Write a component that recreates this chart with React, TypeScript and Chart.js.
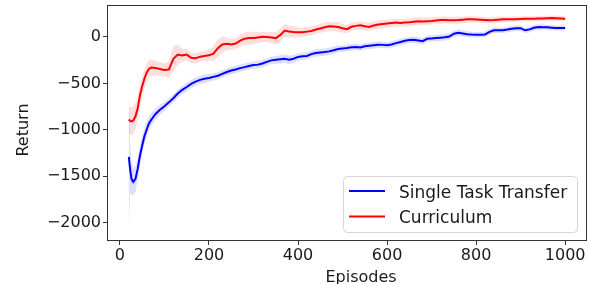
import React, { useEffect, useRef } from "react";
import { Chart, registerables } from "chart.js";

Chart.register(...registerables);

// ---- data ----
const episodes = [
  20, 23, 26, 30, 35, 40, 45, 50, 55, 60, 65, 70,
  80, 90, 100, 110, 120, 130, 140, 150, 160, 170, 180, 190, 200,
  210, 220, 230, 240, 250, 260, 270, 280, 290, 300,
  310, 320, 330, 340, 350, 360, 370, 380, 390, 400,
  410, 420, 430, 440, 450, 460, 470, 480, 490, 500,
  510, 520, 530, 540, 550, 560, 570, 580, 590, 600,
  610, 620, 630, 640, 650, 660, 670, 680, 690, 700,
  710, 720, 730, 740, 750, 760, 770, 780, 790, 800,
  810, 820, 830, 840, 850, 860, 870, 880, 890, 900,
  910, 920, 930, 940, 950, 960, 970, 980, 990, 1000,
];

const transferMean = [
  -1293, -1430, -1530, -1562, -1530, -1420, -1280, -1170, -1070, -1000, -935, -895,
  -830, -785, -747, -705, -660, -610, -570, -539, -505, -482, -462, -450, -442,
  -430, -418, -398, -378, -362, -350, -336, -325, -312, -302,
  -298, -285, -268, -252, -246, -240, -235, -245, -235, -215,
  -207, -204, -185, -172, -168, -163, -155, -142, -130, -124,
  -118, -110, -108, -112, -100, -95, -90, -84, -85, -90,
  -80, -66, -54, -40, -33, -30, -38, -45, -20, -15,
  -12, -8, -3, 5, 35, 45, 38, 30, 26, 25,
  25, 28, 55, 72, 72, 72, 80, 90, 95, 95,
  72, 82, 100, 108, 106, 104, 100, 97, 96, 97,
];

const transferStd = [
  795, 250, 170, 150, 140, 120, 110, 100, 90, 85, 75, 70,
  60, 55, 50, 45, 45, 45, 45, 45, 45, 45, 45, 45, 42,
  40, 40, 40, 40, 40, 40, 40, 40, 40, 40,
  40, 40, 40, 40, 42, 45, 45, 45, 42, 40,
  40, 40, 40, 40, 40, 40, 40, 40, 38, 36,
  35, 35, 35, 35, 35, 35, 35, 35, 35, 35,
  35, 35, 35, 35, 35, 35, 35, 35, 35, 35,
  35, 35, 35, 35, 35, 35, 35, 33, 32, 30,
  30, 30, 30, 30, 30, 30, 30, 30, 30, 30,
  30, 30, 30, 30, 28, 28, 28, 28, 28, 28,
];

const curriculumMean = [
  -890, -905, -910, -900, -855, -770, -630, -530, -450, -385, -345, -330,
  -335, -345, -355, -350, -235, -190, -200, -190, -225, -230, -212, -205, -198,
  -180, -120, -80, -72, -80, -70, -40, -18, -10, -12,
  -5, 2, 0, -5, -12, 20, 70, 60, 55, 52,
  50, 58, 65, 80, 92, 105, 115, 112, 108, 95,
  85, 110, 120, 126, 115, 108, 125, 135, 140, 145,
  150, 155, 152, 155, 158, 165, 170, 168, 170, 172,
  178, 182, 183, 181, 180, 182, 186, 190, 191, 189,
  186, 183, 180, 182, 186, 190, 191, 192, 191, 195,
  198, 197, 198, 199, 200, 202, 205, 203, 200, 198,
];

const curriculumStd = [
  145, 150, 150, 150, 140, 130, 120, 110, 105, 100, 95, 90,
  80, 75, 70, 90, 140, 110, 70, 60, 55, 55, 55, 55, 60,
  80, 95, 85, 70, 60, 60, 65, 70, 70, 65,
  60, 55, 55, 60, 65, 75, 70, 65, 60, 55,
  50, 50, 50, 50, 50, 50, 50, 50, 50, 48,
  45, 45, 45, 45, 45, 45, 45, 45, 45, 43,
  42, 42, 42, 42, 42, 42, 42, 42, 40, 38,
  38, 38, 38, 38, 38, 38, 36, 35, 34, 33,
  33, 33, 33, 33, 32, 32, 31, 30, 30, 30,
  28, 28, 28, 28, 28, 28, 28, 28, 28, 28,
];

const xTicks = [0, 200, 400, 600, 800, 1000];
const yTicks = [-2000, -1500, -1000, -500, 0];
const seriesNames = ["Single Task Transfer", "Curriculum"];
const xTitle = "Episodes";
const yTitle = "Return";

const FONT = '"DejaVu Sans", "Liberation Sans", sans-serif';
const BLUE = "#0000ff";
const RED = "#ff0000";
const TEXT = "#1a1a1a";

function band(mean: number[], std: number[], sign: number) {
  return episodes.map((e, i) => ({ x: e, y: mean[i] + sign * std[i] }));
}
function line(mean: number[]) {
  return episodes.map((e, i) => ({ x: e, y: mean[i] }));
}

const decorPlugin = {
  id: "decor",
  afterDraw(chart: any) {
    const { ctx, chartArea: a } = chart;
    ctx.save();
    // axes frame
    ctx.strokeStyle = "#333333";
    ctx.lineWidth = 1;
    ctx.strokeRect(
      Math.round(a.left) + 0.5,
      Math.round(a.top) + 0.5,
      Math.round(a.right - a.left) - 1,
      Math.round(a.bottom - a.top) - 1
    );
    // axis titles
    ctx.fillStyle = TEXT;
    ctx.font = `16px ${FONT}`;
    ctx.textAlign = "center";
    ctx.textBaseline = "alphabetic";
    ctx.fillText(xTitle, (a.left + a.right) / 2 + 14, a.bottom + 41);
    ctx.save();
    ctx.translate(a.left - 79, (a.top + a.bottom) / 2 + 7);
    ctx.rotate(-Math.PI / 2);
    ctx.fillText(yTitle, 0, 0);
    ctx.restore();

    // legend
    const lx = a.right - 244;
    const ly = a.top + 171;
    const lw = 234;
    const lh = 56;
    ctx.beginPath();
    (ctx as any).roundRect(lx + 0.5, ly + 0.5, lw, lh, 4);
    ctx.fillStyle = "rgba(255,255,255,0.8)";
    ctx.fill();
    ctx.strokeStyle = "#d6d6d6";
    ctx.lineWidth = 1;
    ctx.stroke();
    const colors = [BLUE, RED];
    seriesNames.forEach((name, i) => {
      const y = ly + 15 + i * 25.5;
      ctx.beginPath();
      ctx.moveTo(lx + 6, y);
      ctx.lineTo(lx + 42, y);
      ctx.strokeStyle = colors[i];
      ctx.lineWidth = 2;
      ctx.stroke();
      ctx.fillStyle = TEXT;
      ctx.font = `17px ${FONT}`;
      ctx.textAlign = "left";
      ctx.textBaseline = "alphabetic";
      ctx.fillText(name, lx + 56, y + 6.5);
    });
    ctx.restore();
  },
};

const noPad = (s: any) => {
  s.paddingTop = 0;
  s.paddingBottom = 0;
  s.paddingLeft = 0;
  s.paddingRight = 0;
};

export default function App() {
  const ref = useRef<HTMLCanvasElement | null>(null);

  useEffect(() => {
    if (!ref.current) return;
    const bandStyle = (c: string) => ({
      borderWidth: 0,
      borderColor: "rgba(0,0,0,0)",
      pointRadius: 0,
      backgroundColor: c,
      tension: 0,
    });
    const chart = new Chart(ref.current, {
      type: "line",
      data: {
        datasets: [
          { label: "t_hi", data: band(transferMean, transferStd, 1), fill: false, ...bandStyle("rgba(0,0,255,0.13)") },
          { label: "t_lo", data: band(transferMean, transferStd, -1), fill: "-1", ...bandStyle("rgba(0,0,255,0.13)") },
          { label: seriesNames[0], data: line(transferMean), borderColor: BLUE, borderWidth: 2, pointRadius: 0, fill: false, tension: 0 },
          { label: "c_hi", data: band(curriculumMean, curriculumStd, 1), fill: false, ...bandStyle("rgba(255,0,0,0.13)") },
          { label: "c_lo", data: band(curriculumMean, curriculumStd, -1), fill: "-1", ...bandStyle("rgba(255,0,0,0.13)") },
          { label: seriesNames[1], data: line(curriculumMean), borderColor: RED, borderWidth: 2, pointRadius: 0, fill: false, tension: 0 },
        ],
      },
      options: {
        responsive: false,
        animation: false,
        devicePixelRatio: 1,
        layout: { padding: { top: 5, right: 2, left: 0, bottom: 0 } },
        plugins: { legend: { display: false }, tooltip: { enabled: false } },
        scales: {
          x: {
            type: "linear",
            min: -29,
            max: 1049,
            afterBuildTicks: (s: any) => { s.ticks = xTicks.map((v) => ({ value: v })); },
            afterFit: (s: any) => { s.height = 43; noPad(s); },
            grid: { display: true, drawOnChartArea: false, drawTicks: true, tickLength: 4, tickColor: "#333333" },
            border: { display: false },
            ticks: {
              font: { family: FONT, size: 16 },
              color: TEXT,
              padding: 1,
              maxRotation: 0,
              autoSkip: false,
              callback: (v: any) => String(v),
            },
          },
          y: {
            type: "linear",
            min: -2200,
            max: 345,
            afterBuildTicks: (s: any) => { s.ticks = yTicks.map((v) => ({ value: v })); },
            afterFit: (s: any) => { s.width = 107; noPad(s); },
            grid: { display: true, drawOnChartArea: false, drawTicks: true, tickLength: 4, tickColor: "#333333" },
            border: { display: false },
            ticks: {
              font: { family: FONT, size: 16 },
              color: TEXT,
              padding: 2,
              autoSkip: false,
              callback: (v: any) => (Number(v) < 0 ? "\u2212" + Math.abs(Number(v)) : String(v)),
            },
          },
        },
      },
      plugins: [decorPlugin],
    });
    return () => chart.destroy();
  }, []);

  return (
    <div style={{ position: "absolute", left: 0, top: 0, width: 589, height: 284, background: "#fff" }}>
      <canvas ref={ref} width={589} height={284} style={{ display: "block", width: 589, height: 284 }} />
    </div>
  );
}
